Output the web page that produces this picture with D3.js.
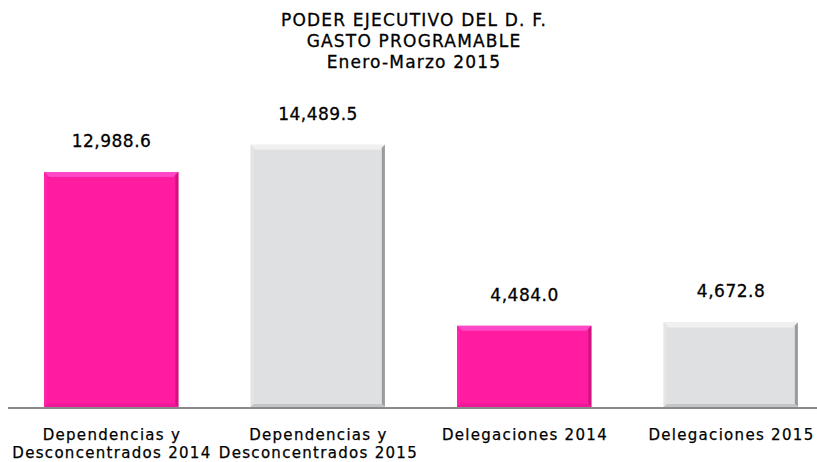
<!DOCTYPE html>
<html>
<head>
<meta charset="utf-8">
<script src="https://cdn.jsdelivr.net/npm/d3@7"></script>
<style>
  html, body { margin: 0; padding: 0; background: #fff; }
  svg { display: block; }
</style>
</head>
<body>
<svg id="chart" width="817" height="462"></svg>
<script>
// datos del gráfico
const categorias = [
  ['Dependencias y', 'Desconcentrados 2014'],
  ['Dependencias y', 'Desconcentrados 2015'],
  ['Delegaciones 2014'],
  ['Delegaciones 2015']
];
const valores = [12988.6, 14489.5, 4484.0, 4672.8];
const anios = [2014, 2015, 2014, 2015];
const titulo = ['PODER EJECUTIVO DEL D. F.', 'GASTO PROGRAMABLE', 'Enero-Marzo 2015'];

const W = 817, H = 462;
const baseY = 407;
const font = "'DejaVu Sans', sans-serif";

const colores = {
  2014: { base: '#ff1ca0', top: '#ff48c8', left: '#ff22a8', right: '#d0137f', bottom: '#f0189a' },
  2015: { base: '#dfe0e2', top: '#f0f0f1', left: '#e4e5e6', right: '#9a9b9d', bottom: '#c4c5c7' }
};

const svg = d3.select('#chart');
const idx = valores.map((d, i) => i);

const x = d3.scaleBand().domain(idx).range([8, 834]).paddingInner(0.35).paddingOuter(0.175);
const y = d3.scaleLinear().domain([0, 12988.6]).range([baseY, 172]);

// título
svg.append('text')
  .attr('x', 414).attr('y', 26)
  .attr('text-anchor', 'middle')
  .attr('font-family', font).attr('font-size', '17px').attr('letter-spacing', '1.2px')
  .attr('fill', '#000').attr('stroke', '#000').attr('stroke-width', 0.3)
  .selectAll('tspan').data(titulo).enter().append('tspan')
  .attr('x', 414).attr('dy', (d, i) => i ? 21 : 0)
  .text(d => d);

// barras con bisel
const bev = 5;
const g = svg.selectAll('.bar').data(idx).enter().append('g').attr('class', 'bar');

g.each(function(i) {
  const el = d3.select(this);
  const x0 = x(i), x1 = x(i) + x.bandwidth();
  const y0 = y(valores[i]), y1 = baseY;
  const c = colores[anios[i]];
  el.append('rect')
    .attr('x', x0).attr('y', y0).attr('width', x1 - x0).attr('height', y1 - y0)
    .attr('fill', c.base);
  const poly = (pts, fill) => el.append('polygon')
    .attr('points', pts.map(p => p.join(',')).join(' ')).attr('fill', fill);
  poly([[x0, y0], [x1, y0], [x1 - bev, y0 + bev], [x0 + bev, y0 + bev]], c.top);
  poly([[x0, y0], [x0 + 3, y0 + 3], [x0 + 3, y1 - 3], [x0, y1]], c.left);
  poly([[x1, y0], [x1, y1], [x1 - 3, y1 - 3], [x1 - 3, y0 + 3]], c.right);
  poly([[x0, y1], [x0 + 3, y1 - 3], [x1 - 3, y1 - 3], [x1, y1]], c.bottom);
});

// etiquetas de valor
svg.selectAll('.val').data(idx).enter().append('text')
  .attr('class', 'val')
  .attr('x', i => x(i) + x.bandwidth() / 2 + 0.3)
  .attr('y', i => y(valores[i]) - 25)
  .attr('text-anchor', 'middle')
  .attr('font-family', font).attr('font-size', '17px').attr('letter-spacing', '0.5px')
  .attr('fill', '#000').attr('stroke', '#000').attr('stroke-width', 0.3)
  .text(i => d3.format(',.1f')(valores[i]));

// eje
svg.append('line')
  .attr('x1', 8).attr('x2', 817).attr('y1', baseY + 1).attr('y2', baseY + 1)
  .attr('stroke', '#8a8a8a').attr('stroke-width', 2);

// categorías
svg.selectAll('.cat').data(idx).enter().append('text')
  .attr('class', 'cat')
  .attr('text-anchor', 'middle')
  .attr('font-family', font).attr('font-size', '15px').attr('letter-spacing', '1.3px')
  .attr('fill', '#000').attr('stroke', '#000').attr('stroke-width', 0.25)
  .each(function(i) {
    const cx = x(i) + x.bandwidth() / 2 + 0.7;
    d3.select(this).selectAll('tspan').data(categorias[i]).enter().append('tspan')
      .attr('x', cx).attr('y', (d, k) => 440 + k * 18)
      .text(d => d);
  });
</script>
</body>
</html>
